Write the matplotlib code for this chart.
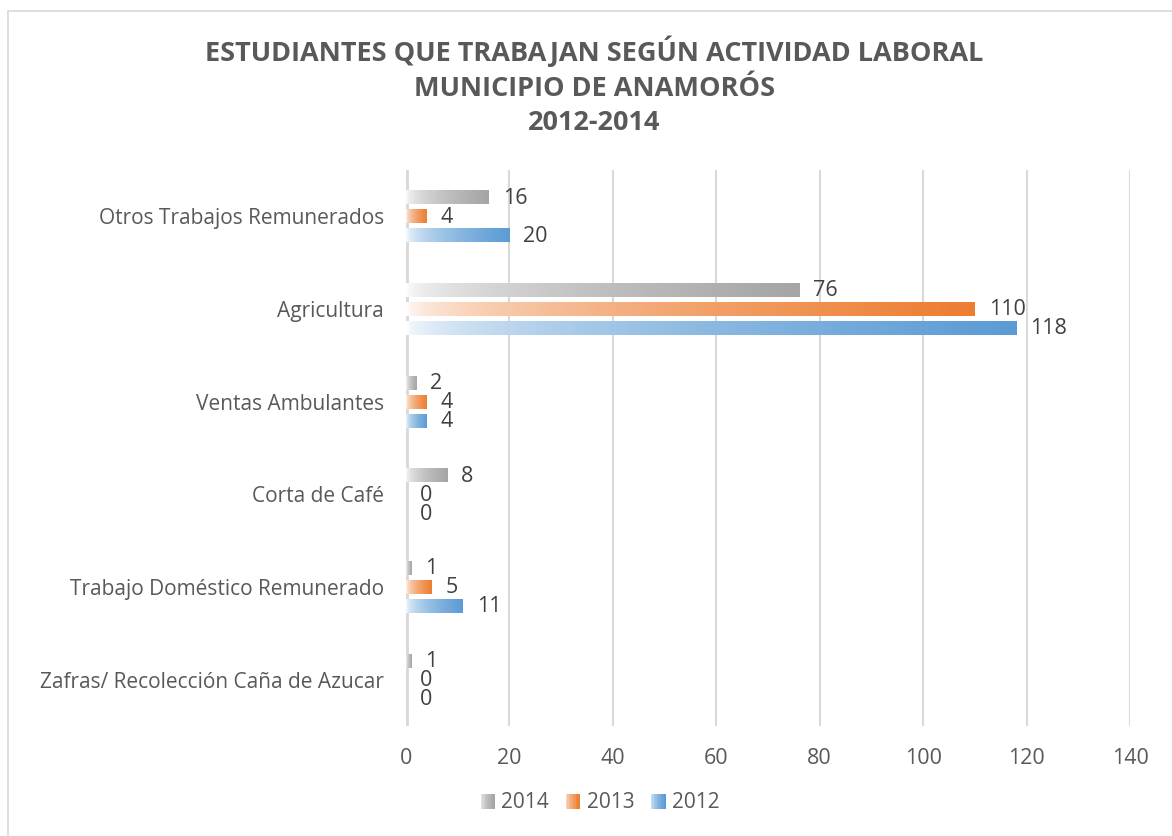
import numpy as np
import matplotlib
matplotlib.use('Agg')
import matplotlib.pyplot as plt
from matplotlib.patches import Rectangle
from matplotlib.colors import to_rgb
from matplotlib.legend_handler import HandlerBase

################################################################################
# data
categories = ['Zafras/ Recolección Caña de Azucar',
              'Trabajo Doméstico Remunerado',
              'Corta de Café',
              'Ventas Ambulantes',
              'Agricultura',
              'Otros Trabajos Remunerados']
years = ['2014', '2013', '2012']
v2014 = [1, 1, 8, 2, 76, 16]
v2013 = [0, 5, 0, 4, 110, 4]
v2012 = [0, 11, 0, 4, 118, 20]
colors = ['#a5a5a5', '#ed7d31', '#5b9bd5']
title = ('ESTUDIANTES QUE TRABAJAN SEGÚN ACTIVIDAD LABORAL\n'
         'MUNICIPIO DE ANAMORÓS\n2012-2014')

TXT = '#595959'
plt.rcParams['font.family'] = ['Open Sans', 'DejaVu Sans']


def grad_rgba(color, n=256):
    r, g, b = to_rgb(color)
    t = np.linspace(0, 1, n) ** 0.5
    img = np.ones((1, n, 4))
    img[0, :, 0] = 1 - t * (1 - r)
    img[0, :, 1] = 1 - t * (1 - g)
    img[0, :, 2] = 1 - t * (1 - b)
    return img


class GradHandler(HandlerBase):
    def create_artists(self, legend, orig_handle, xdescent, ydescent,
                       width, height, fontsize, trans):
        c = orig_handle.get_facecolor()
        n = 10
        w = height / n
        arts = []
        x0 = width - height
        for i in range(n):
            a = ((i + 1) / n) ** 0.5
            r = Rectangle((x0 + i * w - xdescent, -ydescent), w * 1.05, height,
                          facecolor=c, alpha=a, lw=0, transform=trans)
            arts.append(r)
        return arts


fig = plt.figure(figsize=(11.72, 8.36), dpi=100)
fig.patches.append(Rectangle((8 / 1172, -0.05), 1.1, 1 - 11 / 836 + 0.05,
                             transform=fig.transFigure, fill=False,
                             edgecolor='#d9d9d9', lw=1.2))
ax = fig.add_axes([406 / 1172, 1 - 726 / 836, 724 / 1172, 556 / 836])

y = np.arange(len(categories))
step = 0.205
hgt = 0.15
series = [v2014, v2013, v2012]
offsets = [step, 0, -step]
handles = []
for vals, col, off, lab in zip(series, colors, offsets, years):
    bars = ax.barh(y + off, vals, height=hgt, color='none', lw=0)
    for b, v in zip(bars, vals):
        if v > 0:
            ax.imshow(grad_rgba(col), extent=[0, v, b.get_y(),
                                              b.get_y() + hgt],
                      aspect='auto', zorder=2, interpolation='bilinear')
        ax.annotate(str(v), (v, b.get_y() + hgt / 2 - 0.01), xytext=(10, 0),
                    textcoords='offset points', va='center', ha='left',
                    fontsize=15.5, color='#404040')
    handles.append(Rectangle((0, 0), 1, 1, facecolor=col))

ax.set_xlim(0, 140)
ax.set_ylim(-0.5, len(categories) - 0.5)
ax.set_xticks(np.arange(0, 141, 20))
ax.set_yticks(y)
ax.set_yticklabels(categories, fontsize=15)
ax.tick_params(axis='both', length=0, labelcolor=TXT)
ax.tick_params(axis='x', pad=16, labelsize=15.5)
ax.tick_params(axis='y', pad=16)
ax.grid(axis='x', color='#d9d9d9', lw=1.5, zorder=0)
ax.set_axisbelow(True)
for s in ax.spines.values():
    s.set_visible(False)
ax.axvline(0, color='#d9d9d9', lw=3.5, zorder=1)

fig.text(0.507, 1 - 86 / 836, title, ha='center', va='center',
         fontsize=19.5, fontweight='bold', color=TXT, linespacing=1.43)

fig.legend(handles, years, handler_map={Rectangle: GradHandler()},
           loc='center', bbox_to_anchor=(600 / 1172, 1 - 803 / 836),
           ncol=3, frameon=False, fontsize=15, labelcolor=TXT,
           handlelength=0.7, handletextpad=0.3, columnspacing=0.8)

fig.savefig('out.png', dpi=100)
